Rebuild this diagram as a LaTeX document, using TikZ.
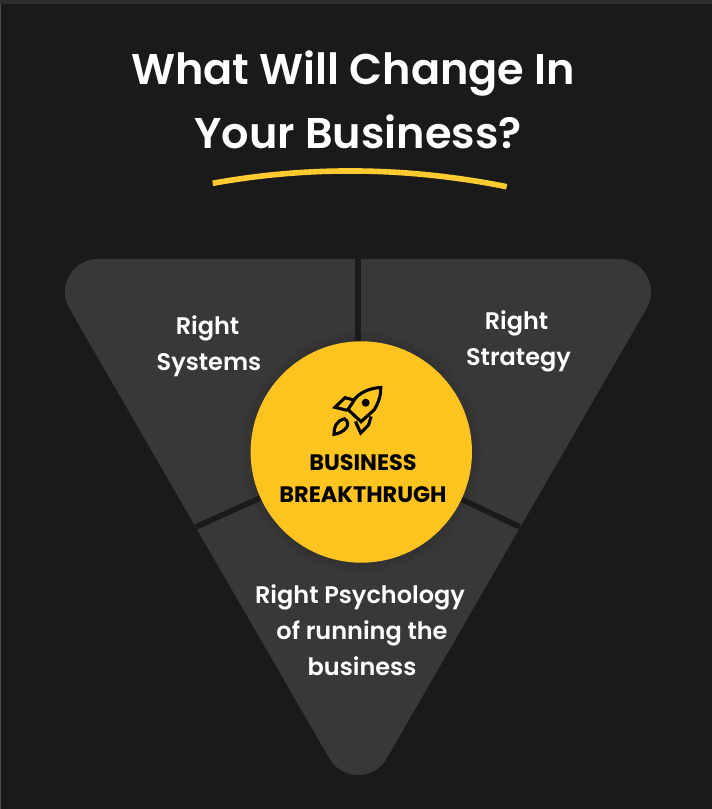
\documentclass[tikz,border=0pt]{standalone}
\usepackage{fontspec}
\setmainfont{Poppins}
\newfontfamily\titlefont{Poppins SemiBold}
\newfontfamily\hubfont{Poppins Bold}
\definecolor{bgdark}{HTML}{1A1A1A}
\definecolor{topstrip}{HTML}{2E2E2E}
\definecolor{edgeline}{HTML}{4A4A4A}
\definecolor{panel}{HTML}{383838}
\definecolor{hubyellow}{HTML}{FFC420}
\definecolor{swoosh}{HTML}{FFCB30}
\tikzset{
  titletext/.style={text=white,align=center,inner sep=0pt,font=\titlefont\fontsize{43}{64}\selectfont},
  labeltext/.style={text=white,align=center,inner sep=0pt,font=\titlefont\fontsize{24}{36}\selectfont},
  hubtext/.style={text=black,align=center,inner sep=0pt,font=\hubfont\fontsize{22.4}{32}\selectfont},
  divider/.style={draw=bgdark,line width=5.6pt},
  rocket/.style={draw=black,line width=3.1pt,line join=miter}
}
\begin{document}
\begin{tikzpicture}[x=1pt,y=-1pt,yshift=809pt]
\useasboundingbox (0,0) rectangle (712,809);
\fill[bgdark] (0,0) rectangle (712,809);
\fill[topstrip] (0,0) rectangle (712,4.5);
\fill[edgeline] (0,4.5) rectangle (1,809);
% panel
\fill[panel] (98,259) -- (618,259) arc[start angle=90,end angle=-30,radius=33pt]
  -- (386.6,758.5) arc[start angle=-30,end angle=-150,radius=33pt]
  -- (69.4,308.5) arc[start angle=210,end angle=90,radius=33pt] -- cycle;
% shadow
\foreach \r in {122,120,118,116,114,112}
  \fill[black,opacity=.015] (361.3,452) circle[radius=\r pt];
% hub + dividers
\coordinate (hubc) at (361.3,452);
\coordinate (divtop) at (358,259);
\coordinate (divleft) at (196,527);
\coordinate (divright) at (520,527);
\coordinate (divtopend) at (358,452);
\draw[divider] (divtop) -- (divtopend);
\draw[divider] (divleft) -- (hubc);
\draw[divider] (divright) -- (hubc);
\node[circle,fill=hubyellow,minimum size=221.4pt,inner sep=0pt] (hub) at (hubc) {};
% swoosh
\draw[swoosh,line width=5.6pt] (212.7,183.3) .. controls (309.6,165.8) and (407.6,166.9) .. (506.7,186.7);
% rocket
\draw[rocket] (380.8,387.5) .. controls (371,388) and (362,391.5) .. (356,397.5) -- (348,409.5) -- (361,421.7)
  -- (374,410) .. controls (378.5,403) and (381,395) .. cycle;
\fill[black] (365.7,402.7) circle[radius=4pt];
\draw[rocket] (354,400) -- (345,397.7) -- (335,407.3) -- (347,410.3);
\draw[rocket] (371.2,416.5) -- (368.5,425) -- (360.7,433) -- (355.5,421.5);
\draw[rocket] (334,434.3) .. controls (334,427) and (336,421) .. (344.5,418.8)
  .. controls (348,421) and (348.5,425) .. (346.5,427.5) .. controls (344,431) and (339,433.8) .. cycle;
% text
\node[titletext] (title) at (358,99.6) {What Will Change In\hspace*{10pt}\\Your Business?};
\node[labeltext] (lblsys) at (209,346) {Right\hspace*{3pt}\\Systems};
\node[labeltext] (lblstr) at (518.5,341) {Right\hspace*{4pt}\\Strategy};
\node[labeltext] (lblpsy) at (362,630.5) {Right Psychology\hspace*{4pt}\\of running the\\business};
\node[hubtext] (hublabel) at (363,478.5) {BUSINESS\\BREAKTHRUGH};
\end{tikzpicture}
\end{document}
